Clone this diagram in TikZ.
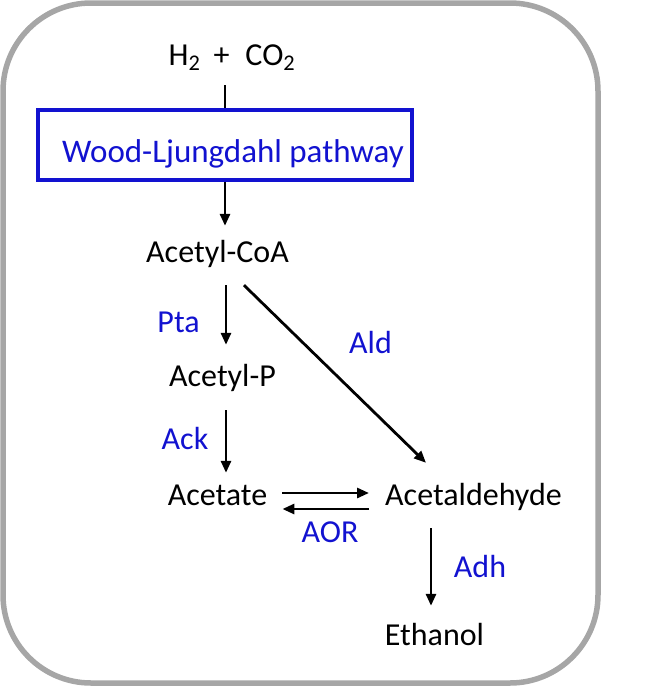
\documentclass[tikz,border=0pt]{standalone}
\usepackage{fontspec}
\setmainfont{Carlito}
\usetikzlibrary{arrows.meta}
\definecolor{pathblue}{RGB}{18,18,208}
\definecolor{framegray}{RGB}{166,166,166}

\begin{document}
\begin{tikzpicture}[x=1pt,y=-1pt,
  met/.style={font=\fontsize{32}{38}\selectfont,text height=19pt,text depth=6pt,inner sep=0pt,anchor=base},
  enz/.style={met,text=pathblue},
  arr/.style={line width=2.8pt,-{Triangle[length=12pt,width=10pt]}}]
\useasboundingbox (0,0) rectangle (670,686);
\draw[framegray,line width=5.5pt,rounded corners=88pt] (3,3) rectangle (598,683);

\node[met] (gas) at (232,65) {H\textsubscript{2}\hspace{13pt}+\hspace{16pt}CO\textsubscript{2}};
\node[draw=pathblue,line width=3.5pt,minimum width=374pt,minimum height=70pt,inner sep=0pt,
  text height=34pt,text depth=0pt,text=pathblue,font=\fontsize{33}{40}\selectfont] (wl) at (225,145) {\hspace*{16pt}Wood-Ljungdahl pathway};

\node[met] (coa) at (217.5,262) {Acetyl-CoA};
\node[met] (acp) at (222.5,386) {Acetyl-P};
\node[met] (acet) at (217.5,505) {Acetate};
\node[met] (acald) at (473.5,505) {Acetaldehyde};
\node[met] (etoh) at (434.5,645) {Ethanol};

\node[enz] (pta) at (178.5,332) {Pta};
\node[enz] (ald) at (370.5,353) {Ald};
\node[enz] (ack) at (185,449) {Ack};
\node[enz] (aor) at (330,542) {AOR};
\node[enz] (adh) at (480,577) {Adh};

% connectors
\draw[line width=2.8pt] ([yshift=-14pt]gas.south -| wl.north) -- (wl.north);
\draw[arr] (wl.south) -- ([yshift=17pt]wl.south |- coa.north);
\draw[arr] ([xshift=8.5pt,yshift=-17pt]coa.south) -- ([xshift=3.5pt,yshift=22pt]acp.north);
\draw[arr] ([xshift=26.5pt,yshift=-17pt]coa.south) -- ([xshift=-47.5pt,yshift=23pt]acald.north);
\draw[arr] ([xshift=3.5pt,yshift=-18pt]acp.south) -- ([xshift=8.5pt,yshift=13pt]acet.north);
\draw[arr] ([xshift=15pt,yshift=5.5pt]acet.east) -- ([xshift=-16pt,yshift=5.5pt]acald.west);
\draw[arr] ([xshift=-16pt,yshift=-10.5pt]acald.west) -- ([xshift=15pt,yshift=-10.5pt]acet.east);
\draw[arr] ([xshift=-42.5pt,yshift=-17pt]acald.south) -- ([xshift=-3.5pt,yshift=20pt]etoh.north);
\end{tikzpicture}
\end{document}
